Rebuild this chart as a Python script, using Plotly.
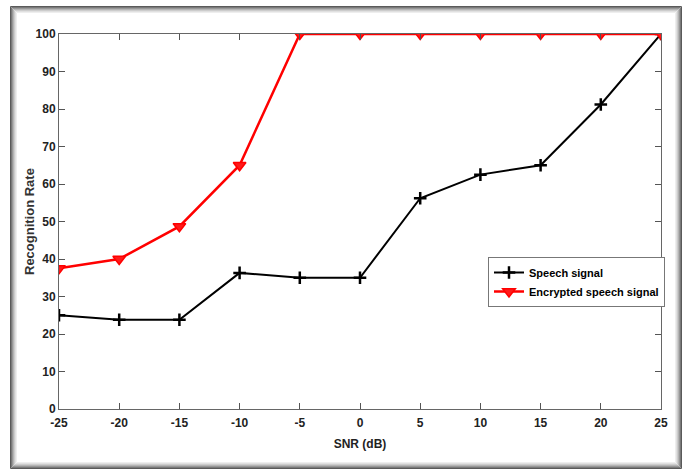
import plotly.graph_objects as go

snr = [-25, -20, -15, -10, -5, 0, 5, 10, 15, 20, 25]
speech = [25, 23.8, 23.8, 36.3, 35, 35, 56.2, 62.5, 65, 81.2, 100]
encrypted = [37.5, 40, 48.7, 65, 100, 100, 100, 100, 100, 100, 100]
x_ticks = [-25, -20, -15, -10, -5, 0, 5, 10, 15, 20, 25]
x_tick_labels = ["-25", "-20", "-15", "-10", "-5", "0", "5", "10", "15", "20", "25"]
y_ticks = [0, 10, 20, 30, 40, 50, 60, 70, 80, 90, 100]

FONT = "Liberation Sans Narrow, Arial Narrow, Liberation Sans, Arial"

fig = go.Figure()
fig.add_trace(go.Scatter(
    x=snr, y=speech, mode="lines+markers", name="Speech signal",
    line=dict(color="black", width=2),
    marker=dict(symbol="cross-thin", size=9, line=dict(color="black", width=2.5)),
))
fig.add_trace(go.Scatter(
    x=snr, y=encrypted, mode="lines+markers", name="Encrypted speech signal",
    line=dict(color="#ff0000", width=2.5),
    marker=dict(symbol="triangle-down", size=11, color="#ff1a1a", line=dict(color="#ff0000", width=1.5)),
))

W, H = 686, 474
pl, pr, pt, pb = 59, 25, 34, 65
pw, ph = W - pl - pr, H - pt - pb

def px_x(px):
    return (px - pl) / pw
def px_y(py):
    return 1 - (py - pt) / ph

fig.update_layout(
    width=W, height=H,
    margin=dict(l=pl, r=pr, t=pt, b=pb, autoexpand=False),
    paper_bgcolor="white", plot_bgcolor="white",
    font=dict(family=FONT, size=11, color="#222"),
    showlegend=True,
    legend=dict(x=px_x(665), y=px_y(257), xanchor="right", yanchor="top",
                bgcolor="white", bordercolor="#777", borderwidth=1,
                font=dict(family=FONT, size=11, color="black", weight="bold"),
                tracegroupgap=0, itemwidth=30),
    xaxis=dict(range=[-25, 25], tickvals=x_ticks, ticktext=x_tick_labels,
               ticks="inside", ticklen=6, ticklabelstandoff=3,
               tickcolor="#555", linecolor="#666", linewidth=1, mirror="ticks",
               showgrid=False, zeroline=False, automargin=False,
               tickfont=dict(family=FONT, size=12, color="#222", weight="bold"),
               title=dict(text="SNR (dB)", standoff=10,
                          font=dict(family=FONT, size=12, color="#222", weight="bold"))),
    yaxis=dict(range=[0, 100], tickvals=y_ticks, ticks="inside", ticklen=6,
               tickcolor="#555", linecolor="#666", linewidth=1, mirror="ticks",
               showgrid=False, zeroline=False, automargin=False,
               tickfont=dict(family=FONT, size=12, color="#222", weight="bold")),
    annotations=[dict(text="Recognition Rate", xref="paper", yref="paper",
                      x=px_x(30), y=px_y(221), xanchor="center", yanchor="middle",
                      textangle=-90, showarrow=False,
                      font=dict(family="Liberation Sans, Arial", size=13, color="#333", weight="bold"))],
)

greys = ["#5a5a5a", "#7a7a7a", "#989898", "#b4b4b4", "#cccccc", "#e0e0e0", "#eeeeee"]
frame = []
for i, g in enumerate(greys):
    frame.append(dict(type="rect", xref="paper", yref="paper",
                      x0=px_x(10.5 + i), x1=px_x(681.5 - i),
                      y0=px_y(468.5 - i), y1=px_y(6.5 + i),
                      line=dict(color=g, width=1), layer="below"))
fig.update_layout(shapes=frame)

fig.write_html("out.html", config={"displayModeBar": False},
               post_script="document.body.style.margin='0px';")
